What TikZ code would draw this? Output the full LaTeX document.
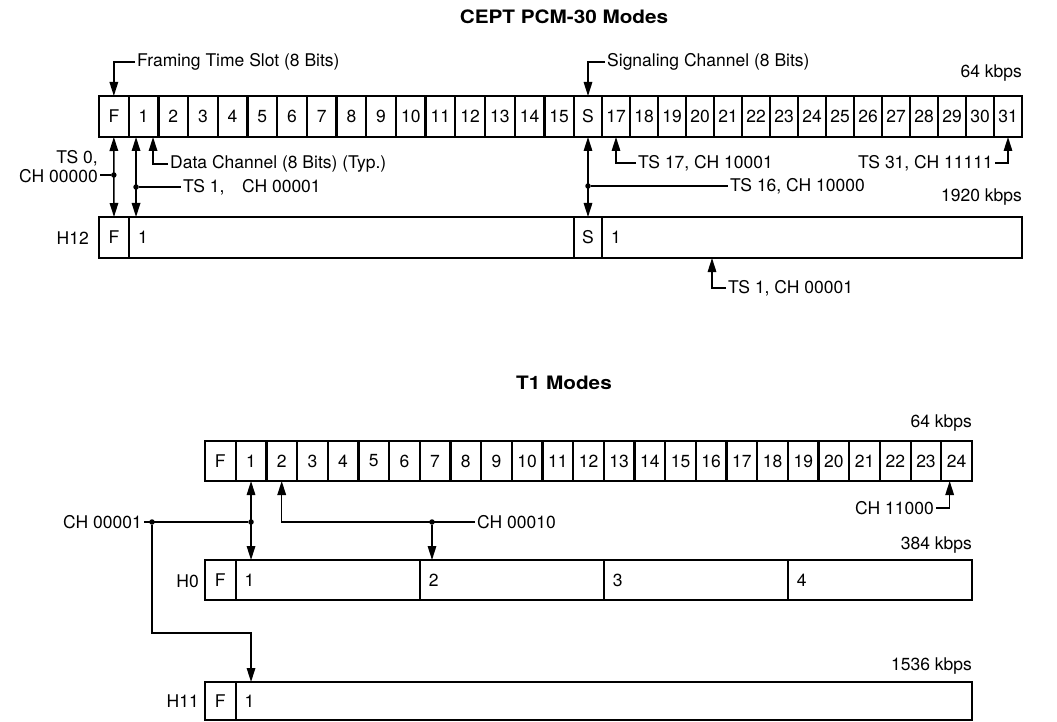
\documentclass[tikz,border=0pt]{standalone}
\usepackage{fontspec}
\setmainfont{TeX Gyre Heros}
\newfontfamily\headfont[FakeStretch=1.12]{TeX Gyre Heros}
\usetikzlibrary{arrows.meta, positioning, calc}
\newcommand{\dfont}{\fontsize{17.5}{19}\selectfont}
\newcommand{\tfont}{\headfont\fontsize{18.5}{20}\selectfont\bfseries}

\begin{document}
\begin{tikzpicture}[x=1pt, y=-1pt,
  cell/.style={draw, line width=2.3pt, inner sep=0pt, outer sep=0pt,
               anchor=north west, minimum height=41pt, font=\dfont},
  hblk/.style={draw, line width=2.3pt, inner xsep=9pt, inner ysep=0pt, outer sep=0pt,
               anchor=north west, minimum height=41pt, align=left, font=\dfont},
  lbl/.style={font=\dfont, inner sep=2pt},
  arr/.style={-{Triangle[length=14pt,width=8.5pt]}, line width=1.5pt},
  darr/.style={{Triangle[length=14pt,width=8.5pt]}-{Triangle[length=14pt,width=8.5pt]}, line width=1.5pt},
  ln/.style={line width=1.5pt},
  dot/.style={circle, fill, inner sep=0pt, minimum size=5.5pt}
]
\useasboundingbox (0,0) rectangle (1057,722);

\node[font=\tfont] (cept) at (564,17) {CEPT PCM-30 Modes};
\foreach \i in {0,...,31}{
  \pgfmathsetmacro{\cx}{\i<16 ? 99+29.69*\i : 574+28*(\i-16)}
  \pgfmathsetmacro{\cw}{\i<16 ? 29.69 : 28}
  \ifnum\i=0 \def\lab{F}\else\ifnum\i=16 \def\lab{S}\else\edef\lab{\i}\fi\fi
  \node[cell, minimum width=\cw pt] (c\i) at (\cx,96) {\lab};
}
\node[lbl, anchor=east] (r64a) at (1024,73) {64 kbps};
\node[lbl, anchor=west] (ftslbl) at (135,62) {Framing Time Slot (8 Bits)};
\node[lbl, anchor=west] (sglbl) at (605,62) {Signaling Channel (8 Bits)};
\draw[arr] (ftslbl.west) -| (c0.north);
\draw[arr] (sglbl.west) -| (c16.north);

\node[cell, minimum width=30pt] (hf) at (99,217) {F};
\node[hblk, text width=427pt] (ha) at (129,217) {1};
\node[cell, minimum width=28pt] (hs) at (574,217) {S};
\node[hblk, text width=402pt] (hb) at (602,217) {1};
\node[lbl, anchor=east] (h12) at (91,238) {H12};
\node[lbl, anchor=east] (r1920) at (1024,197) {1920 kbps};

\node[lbl, anchor=east, align=right] (ts0) at (100,167) {TS 0,\\CH 00000};
\draw[darr] (c0.south) -- (hf.north);
\node[dot] (d0) at (c0.south |- 0,175) {};
\draw[ln] (d0) -- (d0 -| ts0.east);

\coordinate (t1u) at ([xshift=-7.5pt]c1.south);
\node[lbl, anchor=west] (ts1) at (181,187) {TS 1,\quad CH 00001};
\draw[darr] (t1u) -- (t1u |- ha.north);
\node[dot] (d1) at (t1u |- 0,187) {};
\draw[ln] (d1) -- (ts1.west);

\node[lbl, anchor=west] (dcl) at (168,164) {Data Channel (8 Bits) (Typ.)};
\draw[arr] (dcl.west) -| ([xshift=9.5pt]c1.south);

\node[lbl, anchor=west] (ts16) at (728,186) {TS 16, CH 10000};
\draw[darr] (c16.south) -- (hs.north);
\node[dot] (d16) at (c16.south |- 0,186) {};
\draw[ln] (d16) -- (ts16.west);

\node[lbl, anchor=west] (ts17) at (636,163) {TS 17, CH 10001};
\draw[arr] (ts17.west) -| (c17.south);
\node[lbl, anchor=east] (ts31) at (995,163) {TS 31, CH 11111};
\draw[arr] (ts31.east) -| (c31.south);

\node[lbl, anchor=west] (ts1b) at (726,288) {TS 1, CH 00001};
\draw[arr] (ts1b.west) -| ($(hb.south west)+(110,0)$);

\node[font=\tfont] (t1m) at (564,383) {T1 Modes};
\foreach \i in {0,...,24}{
  \ifnum\i=0 \def\lab{F}\else\edef\lab{\i}\fi
  \node[cell, minimum width=30.68pt, minimum height=40pt] (t\i) at ({205+30.68*\i},441) {\lab};
}
\node[lbl, anchor=east] (r64b) at (974,423) {64 kbps};

\node[cell, minimum width=30.68pt, minimum height=40pt] (h0f) at (205,560) {F};
\foreach \k in {1,...,4}
  \node[hblk, text width=166.08pt, minimum height=40pt] (h0\k) at ({235.68+184.08*(\k-1)},560) {\k};
\node[lbl, anchor=east] (h0) at (201,581) {H0};
\node[lbl, anchor=east] (r384) at (974,545) {384 kbps};

\node[cell, minimum width=30.68pt, minimum height=38pt] (h11f) at (205,682) {F};
\node[hblk, text width=718.32pt, minimum height=38pt] (h11b) at (235.68,682) {1};
\node[lbl, anchor=east] (h11) at (201,701) {H11};
\node[lbl, anchor=east] (r1536) at (974,666) {1536 kbps};

\node[lbl, anchor=east] (ch1) at (144,522) {CH 00001};
\node[dot] (ja) at (152,522) {};
\node[dot] (jb) at (t1.south |- 0,522) {};
\coordinate (jc) at (152,633);
\draw[ln] (ch1.east) -- (jb);
\draw[darr] (t1.south) -- (t1.south |- h01.north);
\draw[arr] (ja) -- (jc) -| (t1.south |- h11b.north);

\node[lbl, anchor=west] (ch2) at (475,522) {CH 00010};
\draw[arr] (ch2.west) -| (t2.south);
\node[dot] (jd) at (432,522) {};
\draw[arr] (jd) -- (jd |- h02.north);

\node[lbl, anchor=east] (ch24) at (936,508) {CH 11000};
\draw[arr] (ch24.east) -| ([xshift=-7pt]t24.south);
\end{tikzpicture}
\end{document}
